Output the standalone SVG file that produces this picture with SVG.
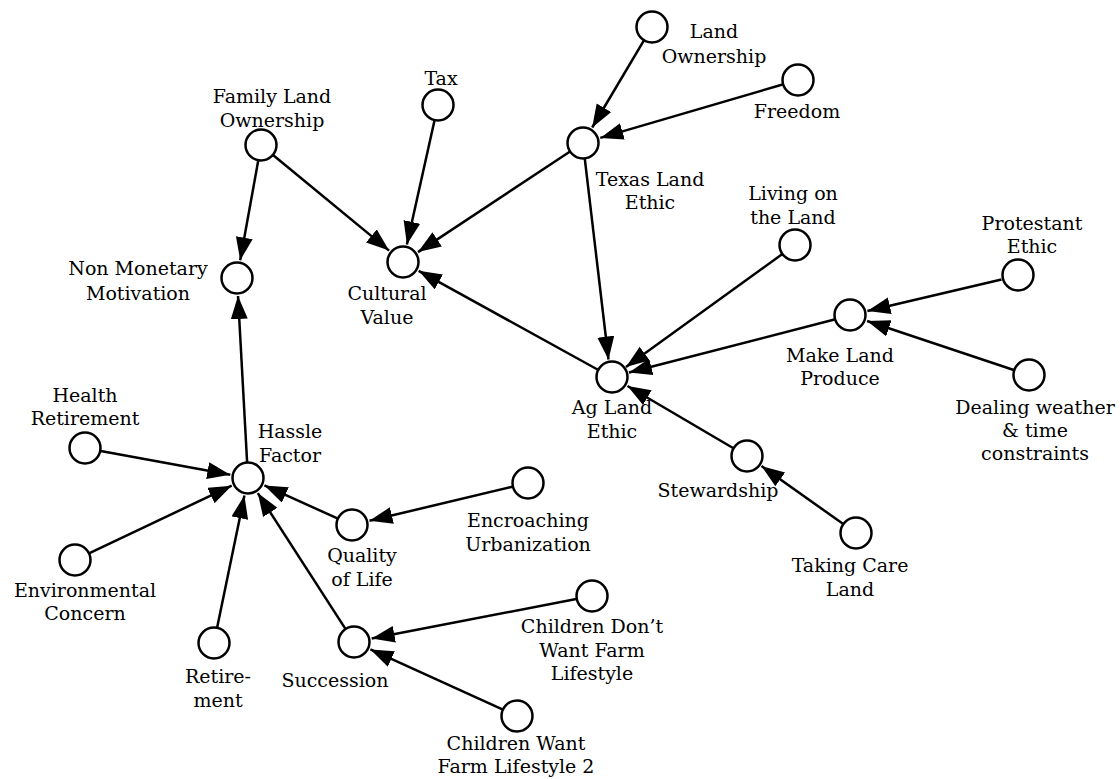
<svg xmlns="http://www.w3.org/2000/svg" width="1120" height="779" viewBox="0 0 1120 779">
<style>
.n{fill:#fff;stroke:#000;stroke-width:2.5}
.e{stroke:#000;stroke-width:2.5;fill:none;marker-end:url(#ah)}
text{font-family:"DejaVu Serif",serif;font-size:19px;fill:#000;text-anchor:middle}
</style>
<defs>
<marker id="ah" markerUnits="userSpaceOnUse" markerWidth="26" markerHeight="18" refX="23" refY="8.5" orient="auto">
<path d="M0,0 L23,8.5 L0,17 z" fill="#000"/>
</marker>
</defs>
<rect width="1120" height="779" fill="#fff"/>
<g id="connectors">
<line class="e" x1="643.8" y1="40.7" x2="592.2" y2="127.5"/>
<line class="e" x1="782.6" y1="84.5" x2="600.3" y2="137.9"/>
<line class="e" x1="434.5" y1="120.6" x2="406.9" y2="244.4"/>
<line class="e" x1="273.3" y1="155.2" x2="389.1" y2="250.6"/>
<line class="e" x1="258.2" y1="160.8" x2="240.2" y2="260.3"/>
<line class="e" x1="569.7" y1="151.8" x2="418.0" y2="252.1"/>
<line class="e" x1="584.8" y1="158.9" x2="608.5" y2="359.5"/>
<line class="e" x1="597.5" y1="369.5" x2="418.7" y2="270.8"/>
<line class="e" x1="782.0" y1="254.3" x2="626" y2="367"/>
<line class="e" x1="834.5" y1="319.5" x2="629" y2="372.5"/>
<line class="e" x1="1001.5" y1="279.5" x2="867.4" y2="311"/>
<line class="e" x1="1013.8" y1="370" x2="867.1" y2="321"/>
<line class="e" x1="733" y1="448" x2="627.5" y2="386"/>
<line class="e" x1="842.9" y1="523.8" x2="761.5" y2="466"/>
<line class="e" x1="247.1" y1="462.0" x2="238.0" y2="296.0"/>
<line class="e" x1="100.7" y1="450.9" x2="230.3" y2="474.7"/>
<line class="e" x1="89.5" y1="553.1" x2="231.7" y2="485.7"/>
<line class="e" x1="217.2" y1="627.3" x2="244.4" y2="495.6"/>
<line class="e" x1="345.3" y1="628.6" x2="257.8" y2="493.1"/>
<line class="e" x1="337.4" y1="518.4" x2="264.4" y2="485.4"/>
<line class="e" x1="512.4" y1="486.7" x2="369.5" y2="520.8"/>
<line class="e" x1="576.3" y1="599.0" x2="371.7" y2="638.6"/>
<line class="e" x1="502.4" y1="709.4" x2="370.4" y2="649.4"/>
</g>
<g id="land-ownership"><circle class="n" cx="652" cy="27" r="15.5"/><text x="714" y="38">Land</text><text x="714" y="63">Ownership</text></g>
<g id="freedom"><circle class="n" cx="798" cy="80" r="15.5"/><text x="797" y="118">Freedom</text></g>
<g id="texas-land-ethic"><circle class="n" cx="583" cy="143" r="15.5"/><text x="650" y="186">Texas Land</text><text x="650" y="209">Ethic</text></g>
<g id="tax"><circle class="n" cx="438" cy="105" r="15.5"/><text x="441" y="85">Tax</text></g>
<g id="family-land-ownership"><circle class="n" cx="261" cy="145" r="15.5"/><text x="272" y="103">Family Land</text><text x="272" y="127">Ownership</text></g>
<g id="non-monetary-motivation"><circle class="n" cx="237" cy="278" r="15.5"/><text x="138" y="275">Non Monetary</text><text x="138" y="300">Motivation</text></g>
<g id="cultural-value"><circle class="n" cx="403" cy="262" r="15.5"/><text x="387" y="300">Cultural</text><text x="387" y="324">Value</text></g>
<g id="living-on-the-land"><circle class="n" cx="795" cy="245" r="15.5"/><text x="793" y="200">Living on</text><text x="793" y="224">the Land</text></g>
<g id="protestant-ethic"><circle class="n" cx="1018" cy="275" r="15.5"/><text x="1032" y="230">Protestant</text><text x="1032" y="253">Ethic</text></g>
<g id="make-land-produce"><circle class="n" cx="850" cy="315" r="15.5"/><text x="840" y="362">Make Land</text><text x="840" y="385">Produce</text></g>
<g id="dealing-weather"><circle class="n" cx="1029" cy="375" r="15.5"/><text x="1035" y="414">Dealing weather</text><text x="1035" y="437">&amp; time</text><text x="1035" y="460">constraints</text></g>
<g id="ag-land-ethic"><circle class="n" cx="612" cy="377" r="15.5"/><text x="612" y="414">Ag Land</text><text x="612" y="438">Ethic</text></g>
<g id="stewardship"><circle class="n" cx="747" cy="456" r="15.5"/><text x="718" y="497">Stewardship</text></g>
<g id="taking-care-land"><circle class="n" cx="856" cy="533" r="15.5"/><text x="850" y="572">Taking Care</text><text x="850" y="596">Land</text></g>
<g id="hassle-factor"><circle class="n" cx="248" cy="478" r="15.5"/><text x="290" y="438">Hassle</text><text x="290" y="462">Factor</text></g>
<g id="health-retirement"><circle class="n" cx="85" cy="448" r="15.5"/><text x="85" y="402">Health</text><text x="85" y="425">Retirement</text></g>
<g id="environmental-concern"><circle class="n" cx="75" cy="560" r="15.5"/><text x="85" y="597">Environmental</text><text x="85" y="620">Concern</text></g>
<g id="retirement"><circle class="n" cx="214" cy="643" r="15.5"/><text x="218" y="683">Retire-</text><text x="218" y="707">ment</text></g>
<g id="quality-of-life"><circle class="n" cx="352" cy="525" r="15.5"/><text x="362" y="562">Quality</text><text x="362" y="586">of Life</text></g>
<g id="encroaching-urbanization"><circle class="n" cx="528" cy="483" r="15.5"/><text x="528" y="527">Encroaching</text><text x="528" y="551">Urbanization</text></g>
<g id="succession"><circle class="n" cx="354" cy="642" r="15.5"/><text x="335" y="687">Succession</text></g>
<g id="children-dont-want"><circle class="n" cx="592" cy="596" r="15.5"/><text x="592" y="633">Children Don’t</text><text x="592" y="657">Want Farm</text><text x="592" y="680">Lifestyle</text></g>
<g id="children-want"><circle class="n" cx="517" cy="716" r="15.5"/><text x="516" y="750">Children Want</text><text x="516" y="773">Farm Lifestyle 2</text></g>
</svg>
